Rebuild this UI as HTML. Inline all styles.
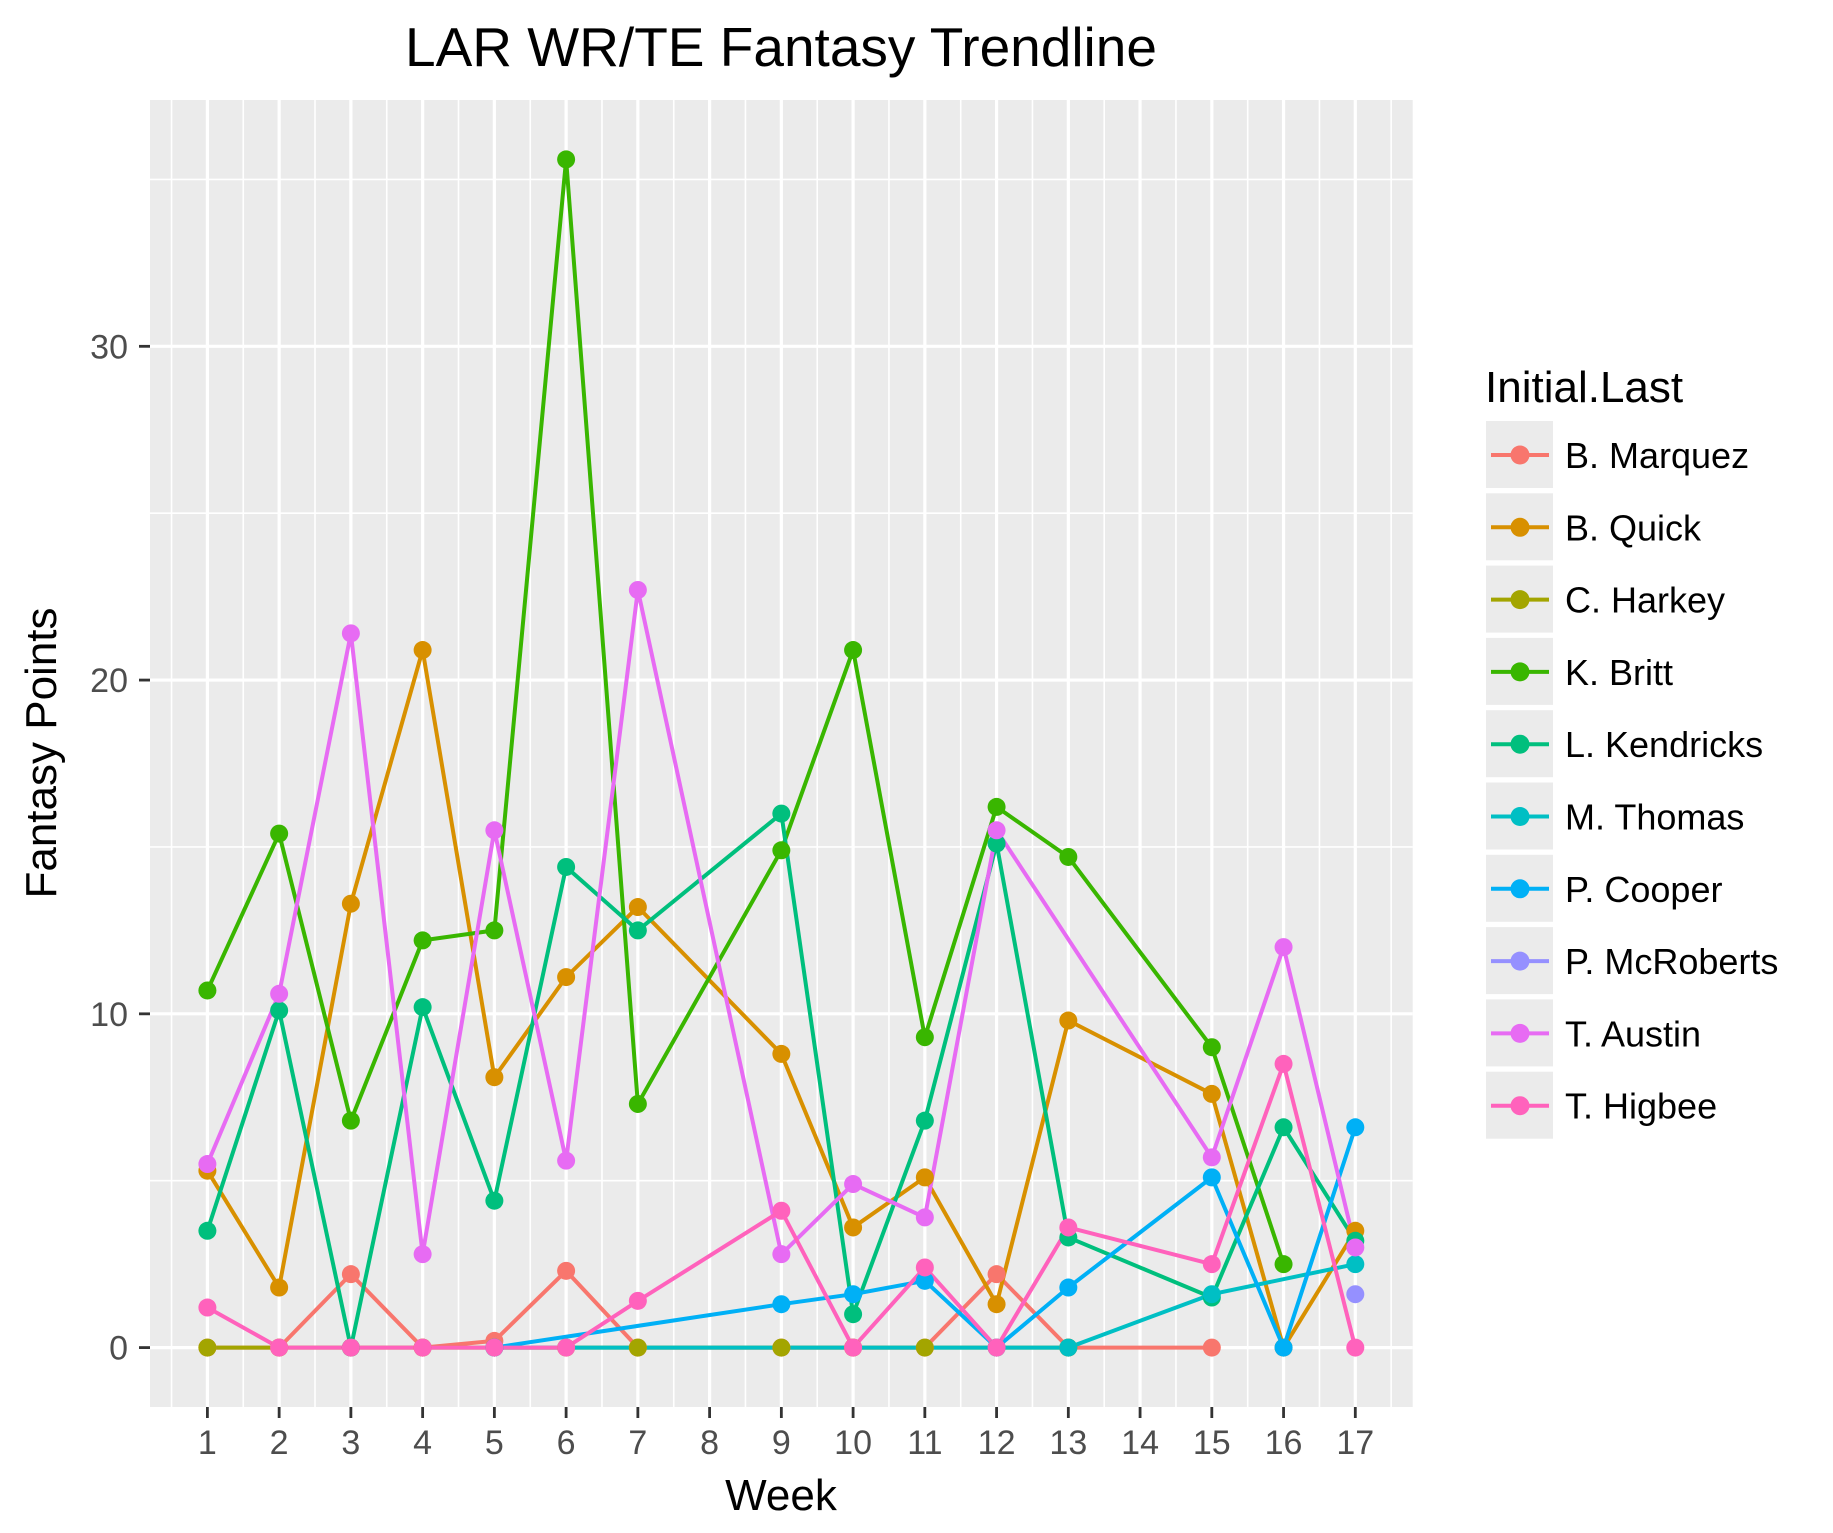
<!DOCTYPE html>
<html><head><meta charset="utf-8"><style>
html,body{margin:0;padding:0;background:#fff;}
svg{display:block;font-family:"Liberation Sans",Arial,sans-serif;}
</style></head><body>
<svg id="chart" width="1833" height="1533" viewBox="0 0 1833 1533"></svg>
<script>
const weeks = [1,2,3,4,5,6,7,8,9,10,11,12,13,14,15,16,17];
const yTicks = [0,10,20,30];
const seriesNames = ["B. Marquez","B. Quick","C. Harkey","K. Britt","L. Kendricks","M. Thomas","P. Cooper","P. McRoberts","T. Austin","T. Higbee"];
const seriesColors = ["#F8766D","#D89000","#A3A500","#39B600","#00BF7D","#00BFC4","#00B0F6","#9590FF","#E76BF3","#FF62BC"];
const marquezWeeks = [1,2,3,4,5,6,7,9,10,11,12,13,15];
const marquezPts = [0,0,2.2,0,0.2,2.3,0,0,0,0,2.2,0,0];
const quickWeeks = [1,2,3,4,5,6,7,9,10,11,12,13,15,16,17];
const quickPts = [5.3,1.8,13.3,20.9,8.1,11.1,13.2,8.8,3.6,5.1,1.3,9.8,7.6,0,3.5];
const harkeyWeeks = [1,2,3,4,5,6,7,9,10,11,12,13];
const harkeyPts = [0,0,0,0,0,0,0,0,0,0,0,0];
const brittWeeks = [1,2,3,4,5,6,7,9,10,11,12,13,15,16];
const brittPts = [10.7,15.4,6.8,12.2,12.5,35.6,7.3,14.9,20.9,9.3,16.2,14.7,9.0,2.5];
const kendricksWeeks = [1,2,3,4,5,6,7,9,10,11,12,13,15,16,17];
const kendricksPts = [3.5,10.1,0,10.2,4.4,14.4,12.5,16.0,1.0,6.8,15.1,3.3,1.5,6.6,3.2];
const thomasWeeks = [5,13,15,17];
const thomasPts = [0,0,1.6,2.5];
const cooperWeeks = [5,9,10,11,12,13,15,16,17];
const cooperPts = [0,1.3,1.6,2.0,0,1.8,5.1,0,6.6];
const mcrobertsWeeks = [17];
const mcrobertsPts = [1.6];
const austinWeeks = [1,2,3,4,5,6,7,9,10,11,12,15,16,17];
const austinPts = [5.5,10.6,21.4,2.8,15.5,5.6,22.7,2.8,4.9,3.9,15.5,5.7,12.0,3.0];
const higbeeWeeks = [1,2,3,4,5,6,7,9,10,11,12,13,15,16,17];
const higbeePts = [1.2,0,0,0,0,0,1.4,4.1,0,2.4,0,3.6,2.5,8.5,0];

const allWeeks=[marquezWeeks,quickWeeks,harkeyWeeks,brittWeeks,kendricksWeeks,thomasWeeks,cooperWeeks,mcrobertsWeeks,austinWeeks,higbeeWeeks];
const allPts=[marquezPts,quickPts,harkeyPts,brittPts,kendricksPts,thomasPts,cooperPts,mcrobertsPts,austinPts,higbeePts];

const NS="http://www.w3.org/2000/svg";
const svg=document.getElementById('chart');
const PL=150,PR=1412.7,PT=100,PB=1407;
const xMin=0.2,xMax=17.8;
let yMaxData=0;allPts.forEach(a=>a.forEach(v=>{if(v>yMaxData)yMaxData=v;}));
const yLo=-yMaxData*0.05,yHi=yMaxData*1.05;
function xs(w){return PL+(w-xMin)/(xMax-xMin)*(PR-PL);}
function ys(v){return PB-(v-yLo)/(yHi-yLo)*(PB-PT);}
function mk(tag,attrs,parent){const e=document.createElementNS(NS,tag);for(const k in attrs)e.setAttribute(k,attrs[k]);(parent||svg).appendChild(e);return e;}

const panel=mk('rect',{x:PL,y:PT,width:PR-PL,height:PB-PT,fill:'#EBEBEB'});


const grid=mk('g',{});


for(let i=0;i<weeks.length-1;i++){const x=xs((weeks[i]+weeks[i+1])/2);mk('line',{x1:x,x2:x,y1:PT,y2:PB,stroke:'#fff','stroke-width':1.6},grid);}
mk('line',{x1:xs(0.5),x2:xs(0.5),y1:PT,y2:PB,stroke:'#fff','stroke-width':1.6},grid);
mk('line',{x1:xs(17.5),x2:xs(17.5),y1:PT,y2:PB,stroke:'#fff','stroke-width':1.6},grid);
for(let i=0;i<yTicks.length;i++){const v=yTicks[i]+5;if(ys(v)>PT)mk('line',{x1:PL,x2:PR,y1:ys(v),y2:ys(v),stroke:'#fff','stroke-width':1.6},grid);}
weeks.forEach(w=>{mk('line',{x1:xs(w),x2:xs(w),y1:PT,y2:PB,stroke:'#fff','stroke-width':3.2},grid);});
yTicks.forEach(v=>{mk('line',{x1:PL,x2:PR,y1:ys(v),y2:ys(v),stroke:'#fff','stroke-width':3.2},grid);});

const xAxis=mk('g',{});


weeks.forEach(w=>{
  mk('line',{x1:xs(w),x2:xs(w),y1:PB,y2:PB+11,stroke:'#333','stroke-width':2.8},xAxis);
  const t=mk('text',{x:xs(w),y:1454,'text-anchor':'middle','font-size':34,fill:'#4D4D4D'},xAxis);
  t.textContent=w;
  
  
});
const yAxis=mk('g',{});


yTicks.forEach(v=>{
  mk('line',{x1:PL-11,x2:PL,y1:ys(v),y2:ys(v),stroke:'#333','stroke-width':2.8},yAxis);
  const t=mk('text',{x:128,y:ys(v)+12,'text-anchor':'end','font-size':34,fill:'#4D4D4D'},yAxis);
  t.textContent=v;
  
  
});

// lines layer then points layer (ggplot order)
const lineLayer=mk('g',{});


const pointLayer=mk('g',{});


for(let s=0;s<seriesNames.length;s++){
  const W=allWeeks[s],P=allPts[s];
  if(W.length>1){
    const pl=mk('polyline',{points:W.map((w,i)=>xs(w)+','+ys(P[i])).join(' '),fill:'none',stroke:seriesColors[s],'stroke-width':4,'stroke-linejoin':'round'},lineLayer);
    
    
  }
}
for(let s=0;s<seriesNames.length;s++){
  const W=allWeeks[s],P=allPts[s];
  W.forEach((w,i)=>{
    const c=mk('circle',{cx:xs(w),cy:ys(P[i]),r:9,fill:seriesColors[s]},pointLayer);
    
    
  });
}

const title=mk('text',{x:781,y:66,'text-anchor':'middle','font-size':55,fill:'#000'});
title.textContent='LAR WR/TE Fantasy Trendline';


const xt=mk('text',{x:781,y:1510,'text-anchor':'middle','font-size':44,fill:'#000'});
xt.textContent='Week';


const yt=mk('text',{x:0,y:0,'text-anchor':'middle','font-size':44,fill:'#000',transform:'translate(56,753) rotate(-90)'});
yt.textContent='Fantasy Points';



const lg=mk('g',{});


const lt=mk('text',{x:1485,y:402,'font-size':44,fill:'#000'},lg);
lt.textContent='Initial.Last';


for(let s=0;s<seriesNames.length;s++){
  const cy=455+s*72.3;
  const e=mk('g',{},lg);
  
  
  mk('rect',{x:1486,y:cy-34,width:67,height:67,fill:'#EBEBEB'},e);
  mk('line',{x1:1491,x2:1549,y1:cy,y2:cy,stroke:seriesColors[s],'stroke-width':4},e);
  mk('circle',{cx:1520,cy:cy,r:9.5,fill:seriesColors[s]},e);
  const t=mk('text',{x:1565,y:cy+13,'font-size':36,fill:'#000'},e);
  t.textContent=seriesNames[s];
}
</script>
</body></html>
